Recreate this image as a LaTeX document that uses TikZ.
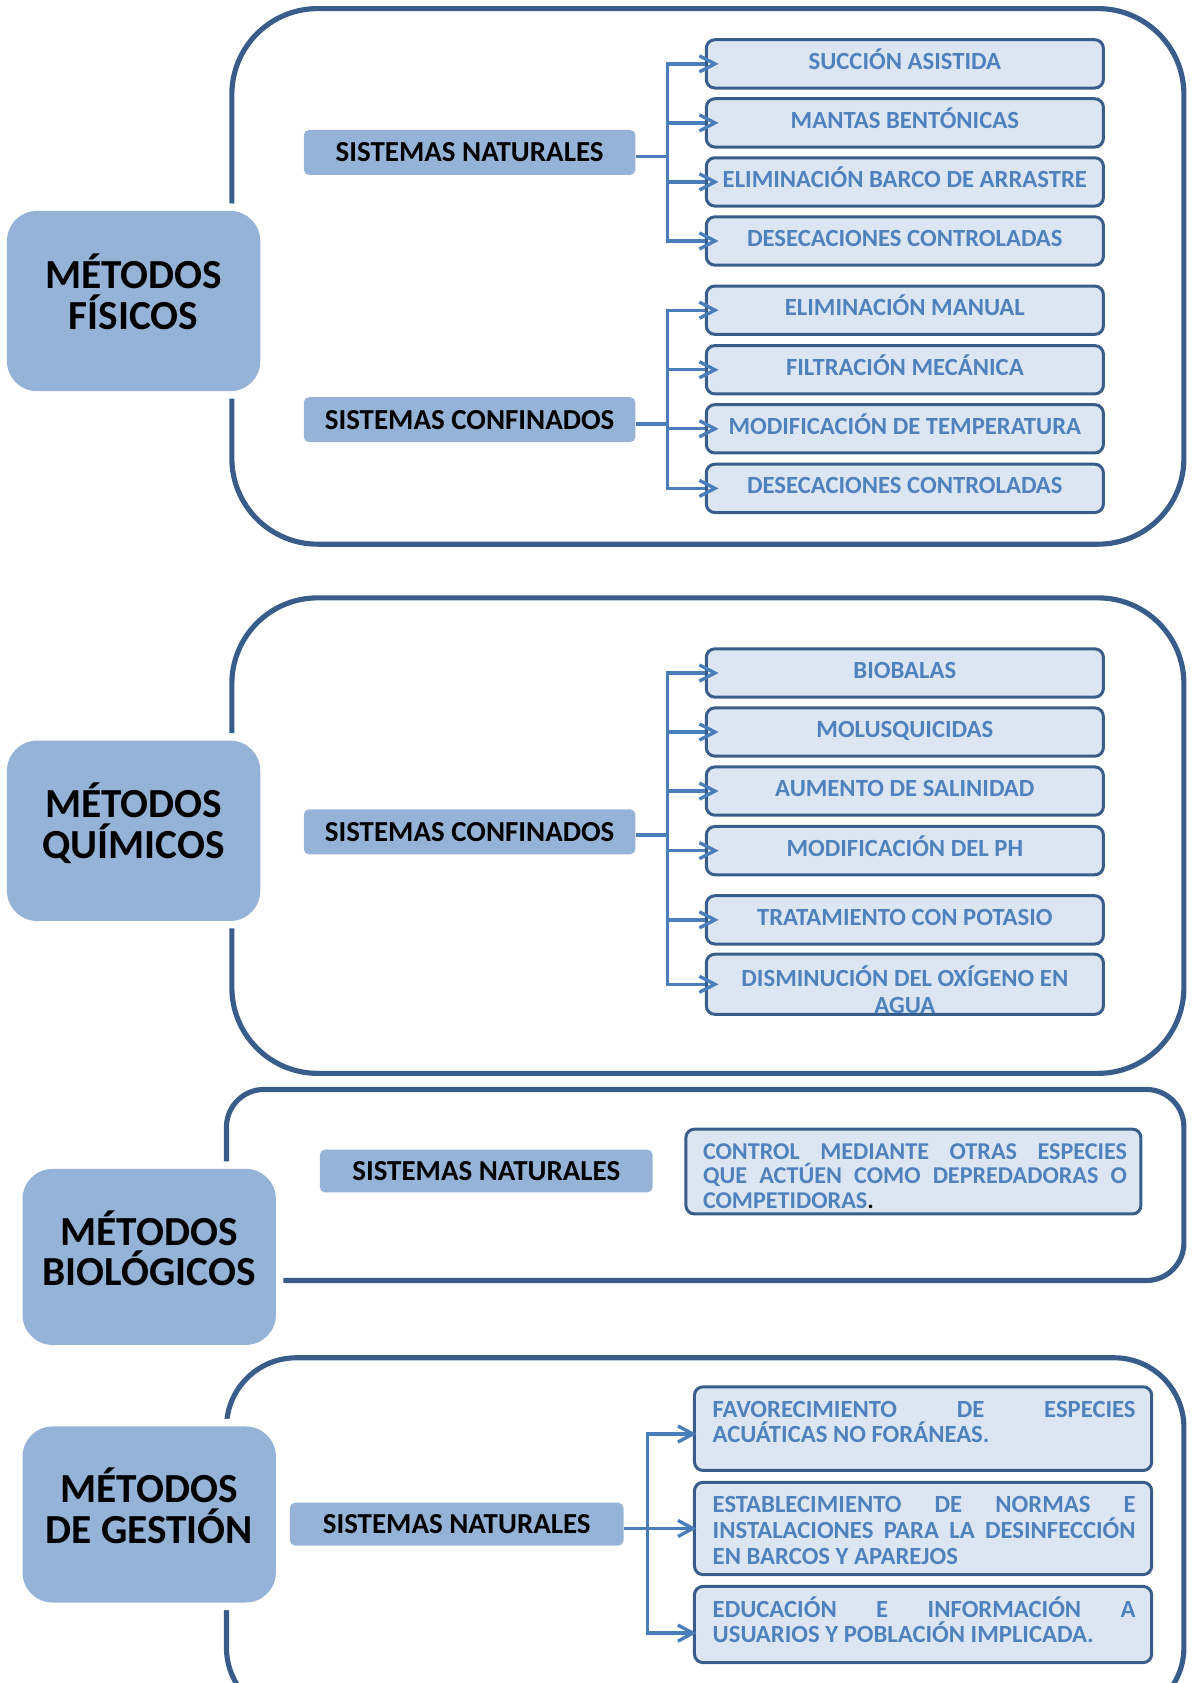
\documentclass[tikz,border=0pt]{standalone}
\usepackage{fontspec}
\setmainfont{Carlito}
\usetikzlibrary{calc}
\definecolor{frameblue}{HTML}{385D8A}
\definecolor{metfill}{HTML}{95B3D7}
\definecolor{itemfill}{HTML}{DCE6F2}
\definecolor{itemtext}{HTML}{4F81BD}
\definecolor{connblue}{HTML}{4A7EBB}
\newcommand\chevron[1]{\draw[conn,line join=miter] ($(#1)+(-5,-7.5)$) -- ($(#1)+(9.5,0)$) -- ($(#1)+(-5,7.5)$);}
\newcommand\chevronedge[1]{\draw[conn,line join=miter] ($(#1)+(-14,-7.5)$) -- ($(#1)+(0,0)$) -- ($(#1)+(-14,7.5)$);}
\begin{document}
\begin{tikzpicture}[x=1pt,y=-1pt,
  frame/.style={draw=frameblue,line width=4.8pt},
  metodo/.style={fill=metfill,rounded corners=28pt,preaction={draw=white,line width=14pt,rounded corners=28pt},
    inner sep=0pt,minimum width=236pt,minimum height=168pt},
  mtext/.style={font=\fontsize{38.5}{38}\selectfont\bfseries,align=center,inner sep=0pt},
  sistema/.style={fill=metfill,rounded corners=5pt,font=\fontsize{27}{28}\selectfont\bfseries,inner sep=0pt,minimum width=309pt,minimum height=42pt},
  itembox/.style={fill=itemfill,draw=frameblue,line width=2.8pt,rounded corners=8pt,text=itemtext,
    font=\fontsize{23}{25}\selectfont\bfseries,align=center,inner sep=0pt,minimum width=370pt,minimum height=45pt,
    text height=14pt,text depth=4pt},
  longbox/.style={fill=itemfill,draw=frameblue,line width=2.8pt,rounded corners=8pt,inner sep=0pt,minimum width=426pt},
  longtext/.style={text=itemtext,font=\fontsize{23}{24}\selectfont\bfseries,text width=394pt,align=justify,inner sep=0pt},
  conn/.style={draw=connblue,line width=3.1pt}]
\path[use as bounding box,clip] (0,0) rectangle (1111,1568);

% frames
\draw[frame,rounded corners=80pt] (216,8) rectangle (1103,507);
\draw[frame,rounded corners=80pt] (216,557) rectangle (1103,1000);
\draw[frame,rounded corners=35pt] (211,1015) rectangle (1103,1193);
\draw[frame,rounded corners=65pt] (211,1265) rectangle (1103,1600);

% metodos
\node[metodo] (mf) at (124.5,280.5) {};
\node[mtext] (mft) at (124.5,272) {MÉTODOS\\FÍSICOS};
\node[metodo] (mq) at (124.5,774) {};
\node[mtext] (mqt) at (124.5,767) {MÉTODOS\\QUÍMICOS};
\node[metodo,minimum height=164pt] (mb) at (139,1171) {};
\node[mtext] (mbt) at (139,1163) {MÉTODOS\\BIOLÓGICOS};
\node[metodo,minimum height=164pt] (mg) at (139,1411) {};
\node[mtext] (mgt) at (139,1403) {MÉTODOS\\DE GESTIÓN};

% section 1
\node[sistema] (sn1) at (437.5,142) {SISTEMAS NATURALES};
\node[sistema] (sc1) at (437.5,391) {SISTEMAS CONFINADOS};
\node[itembox] (i1) at (843,59.5) {SUCCIÓN ASISTIDA};
\node[itembox] (i2) at (843,114.5) {MANTAS BENTÓNICAS};
\node[itembox] (i3) at (843,169.5) {ELIMINACIÓN BARCO DE ARRASTRE};
\node[itembox] (i4) at (843,224.5) {DESECACIONES CONTROLADAS};
\node[itembox] (i5) at (843,289) {ELIMINACIÓN MANUAL};
\node[itembox] (i6) at (843,344.5) {FILTRACIÓN MECÁNICA};
\node[itembox] (i7) at (843,399.5) {MODIFICACIÓN DE TEMPERATURA};
\node[itembox] (i8) at (843,455) {DESECACIONES CONTROLADAS};
\coordinate (t1) at (622,0);
\draw[conn] ($(sn1.east)+(0,4)$) -- ($(sn1.east -| t1)+(0,4)$);
\draw[conn] (t1 |- i4.west) -- (t1 |- i1.west) -- (i1.west);
\draw[conn] (t1 |- i1.west) -- (t1 |- i4.west) -- (i4.west);
\draw[conn] (t1 |- i2.west) -- (i2.west);
\draw[conn] (t1 |- i3.west) -- (i3.west);
\draw[conn] ($(sc1.east)+(0,4)$) -- ($(sc1.east -| t1)+(0,4)$);
\draw[conn] (t1 |- i8.west) -- (t1 |- i5.west) -- (i5.west);
\draw[conn] (t1 |- i5.west) -- (t1 |- i8.west) -- (i8.west);
\draw[conn] (t1 |- i6.west) -- (i6.west);
\draw[conn] (t1 |- i7.west) -- (i7.west);
\chevron{i1.west}\chevron{i2.west}\chevron{i3.west}\chevron{i4.west}
\chevron{i5.west}\chevron{i6.west}\chevron{i7.west}\chevron{i8.west}

% section 2
\node[sistema] (sc2) at (437.5,775) {SISTEMAS CONFINADOS};
\node[itembox] (q1) at (843,627) {BIOBALAS};
\node[itembox] (q2) at (843,682) {MOLUSQUICIDAS};
\node[itembox] (q3) at (843,737) {AUMENTO DE SALINIDAD};
\node[itembox] (q4) at (843,792.5) {MODIFICACIÓN DEL PH};
\node[itembox] (q5) at (843,857) {TRATAMIENTO CON POTASIO};
\node[itembox,minimum height=56pt] (q6) at (843,917) {};
\node[text=itemtext,font=\fontsize{23}{25}\selectfont\bfseries,align=center,inner sep=0pt] (q6t) at (843,922)
  {DISMINUCIÓN DEL OXÍGENO EN\\AGUA};
\draw[conn] ($(sc2.east)+(0,3)$) -- ($(sc2.east -| t1)+(0,3)$);
\draw[conn] (t1 |- q6.west) -- (t1 |- q1.west) -- (q1.west);
\draw[conn] (t1 |- q1.west) -- (t1 |- q6.west) -- (q6.west);
\draw[conn] (t1 |- q2.west) -- (q2.west);
\draw[conn] (t1 |- q3.west) -- (q3.west);
\draw[conn] (t1 |- q4.west) -- (q4.west);
\draw[conn] (t1 |- q5.west) -- (q5.west);
\chevron{q1.west}\chevron{q2.west}\chevron{q3.west}\chevron{q4.west}\chevron{q5.west}\chevron{q6.west}

% section 3
\node[sistema,minimum width=310pt,minimum height=40pt] (sn3) at (453,1091) {SISTEMAS NATURALES};
\node[longbox,minimum width=424pt,minimum height=79pt] (ctl) at (851,1091.5) {};
\node[longtext,font=\fontsize{22.5}{23}\selectfont\bfseries,text width=395pt] (ctlt) at (852.5,1095.5)
  {CONTROL MEDIANTE OTRAS ESPECIES\linebreak QUE ACTÚEN COMO DEPREDADORAS O\linebreak COMPETIDORAS{\color{black}.}};

% section 4
\node[sistema,minimum width=311pt,minimum height=40pt] (sn4) at (425.5,1420) {SISTEMAS NATURALES};
\node[longbox,minimum height=78pt] (g1) at (860,1331) {};
\node[longtext,anchor=north] (g1t) at (861,1305)
  {FAVORECIMIENTO DE ESPECIES\linebreak ACUÁTICAS NO FORÁNEAS.};
\node[longbox,minimum height=86pt] (g2) at (860,1424) {};
\node[longtext] (g2t) at (861,1426)
  {ESTABLECIMIENTO DE NORMAS E\linebreak INSTALACIONES PARA LA DESINFECCIÓN\linebreak EN BARCOS Y APAREJOS};
\node[longbox,minimum height=71pt] (g3) at (860,1513.5) {};
\node[longtext] (g3t) at (861,1509)
  {EDUCACIÓN E INFORMACIÓN A\linebreak USUARIOS Y POBLACIÓN IMPLICADA.};
\coordinate (t4) at (603,0);
\coordinate (a1) at ($(g1.west)+(0,5)$);
\coordinate (a2) at ($(sn4.east -| g2.west)+(0,4)$);
\coordinate (a3) at ($(g3.west)+(0,8)$);
\draw[conn] ($(sn4.east)+(0,4)$) -- (a2);
\draw[conn] (t4 |- a3) -- (t4 |- a1) -- (a1);
\draw[conn] (t4 |- a1) -- (t4 |- a3) -- (a3);
\chevronedge{a1}\chevronedge{a2}\chevronedge{a3}
\end{tikzpicture}
\end{document}
